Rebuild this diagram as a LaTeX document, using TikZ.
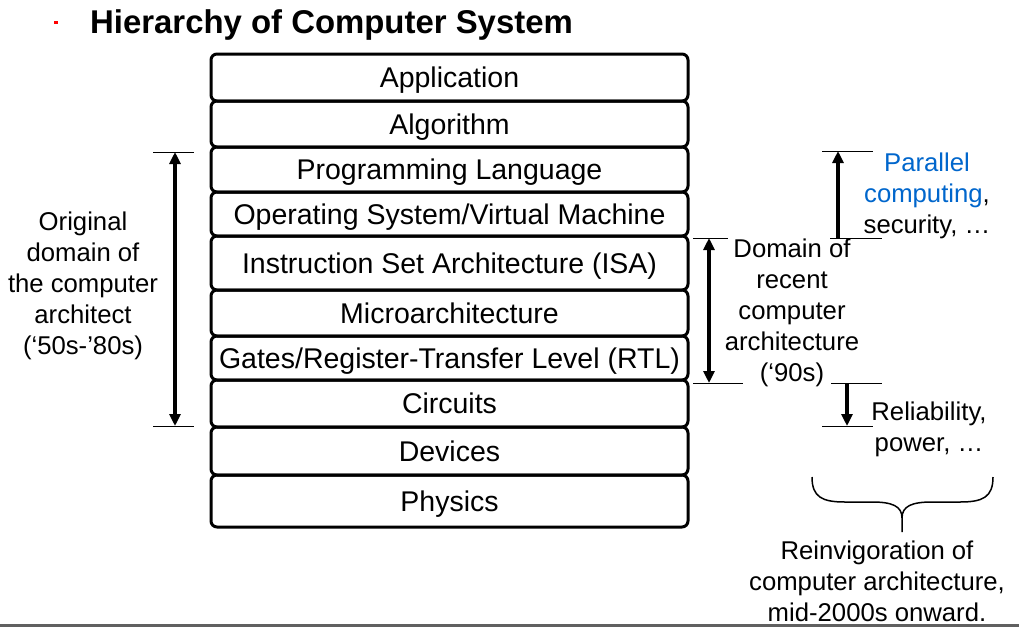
\documentclass[tikz,border=0pt]{standalone}
\usepackage{fontspec}
\setmainfont{Liberation Sans}
\usetikzlibrary{arrows.meta}
\definecolor{pcblue}{RGB}{0,102,204}
\definecolor{rulegray}{RGB}{96,96,96}
\begin{document}
\begin{tikzpicture}
  [x=1pt,y=-1pt,
   >={Triangle[length=12pt,width=11pt]},
   layer/.style = {draw, line width=3pt, rounded corners=6pt,
                   minimum width=477pt, inner sep=0pt,
                   text height=20.4pt, text depth=0pt,
                   font=\fontsize{28.5}{31}\selectfont},
   note/.style = {align=center, inner sep=0pt,
                  font=\fontsize{25.7}{31}\selectfont},
   tick/.style = {line width=1pt},
   span/.style = {line width=3.3pt}]
  \useasboundingbox (0,0) rectangle (1019,627);
  % Title
  \fill[red] (54,20.5) rectangle (57.5,24);
  \node[anchor=base west, inner sep=0pt,
        font=\fontsize{32.9}{34}\selectfont\bfseries] (title) at (90,33)
       {Hierarchy of Computer System};
  % Stack of layers
  \node[layer, minimum height=47pt] (app)   at (449.5,77.5) {Application};
  \node[layer, minimum height=46pt] (alg)   at (449.5,124)  {Algorithm};
  \node[layer, minimum height=45pt] (lang)  at (449.5,169.5) {Programming Language};
  \node[layer, minimum height=44pt] (os)    at (449.5,214)  {Operating System/Virtual Machine};
  \node[layer, minimum height=54pt] (isa)   at (449.5,263)  {Instruction Set Architecture (ISA)};
  \node[layer, minimum height=46pt] (uarch) at (449.5,313)  {Microarchitecture};
  \node[layer, minimum height=44pt] (rtl)   at (449.5,358)  {Gates/Register-Transfer Level (RTL)};
  \node[layer, minimum height=47pt] (circ)  at (449.5,403.5) {Circuits};
  \node[layer, minimum height=48pt] (dev)   at (449.5,451)  {Devices};
  \node[layer, minimum height=52pt] (phys)  at (449.5,501)  {Physics};
  % Original domain
  \coordinate (oldtop) at (175,152);
  \coordinate (oldbot) at (175,426);
  \draw[tick] (153,152) -- (194,152);
  \draw[tick] (153,426) -- (194,426);
  \draw[span, <->] (oldtop) -- (oldbot);
  \node[note] (old) at (83,286)
       {Original\\domain of\\the computer\\architect\\(‘50s-’80s)};
  % Recent domain
  \coordinate (newtop) at (709,238);
  \coordinate (newbot) at (709,383);
  \draw[tick] (693,238) -- (728,238);
  \draw[tick] (693,383) -- (743,383);
  \draw[span, <->] (newtop) -- (newbot);
  \node[note] (new) at (792,313)
       {Domain of\\recent\\computer\\architecture\\(‘90s)};
  % Upward extension
  \coordinate (uptop) at (838,151);
  \coordinate (upbot) at (838,238);
  \draw[tick] (822,151) -- (873,151);
  \draw[tick] (830,238) -- (882,238);
  \draw[span, ->] (upbot) -- (uptop);
  \node[note] (par) at (927,195.5)
       {\textcolor{pcblue}{Parallel}\\\textcolor{pcblue}{computing},\\security, …};
  % Downward extension
  \coordinate (dntop) at (847,383);
  \coordinate (dnbot) at (847,426);
  \draw[tick] (831,383) -- (882,383);
  \draw[tick] (822,426) -- (873,426);
  \draw[span, ->] (dntop) -- (dnbot);
  \node[note] (rel) at (929,429) {Reliability,\\power, …};
  % Brace
  \draw[line width=1.5pt] (812,477) .. controls (812,497) and (822,502) .. (845,502)
    -- (872,502) .. controls (892,502) and (902,506) .. (902,518) -- (902,532)
    (902,518) .. controls (902,506) and (912,502) .. (932,502)
    -- (960,502) .. controls (983,502) and (993,497) .. (993,477);
  \node[note] (reinv) at (877,581.5)
       {Reinvigoration of\\computer architecture,\\mid-2000s onward.};
  % Bottom rule
  \fill[rulegray] (0,624) rectangle (1019,627);
\end{tikzpicture}
\end{document}
